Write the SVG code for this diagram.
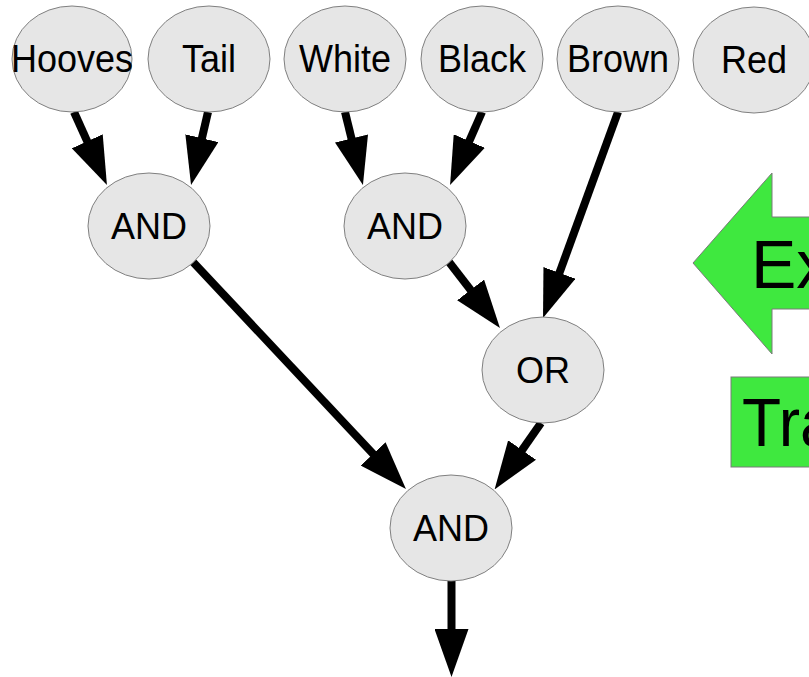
<svg xmlns="http://www.w3.org/2000/svg" width="809" height="677" viewBox="0 0 809 677">
  <style>
    .node ellipse { fill: #e6e6e6; stroke: #808080; stroke-width: 1; }
    .node text { font-family: "Liberation Sans", Arial, sans-serif; font-size: 36px; fill: #000; text-anchor: middle; }
    .edge { stroke: #000; stroke-width: 8; fill: none; marker-end: url(#head); }
    .badge { fill: #3fe83f; stroke: #7a7a7a; stroke-width: 1; }
    .badge-text { font-family: "Liberation Sans", Arial, sans-serif; fill: #000; }
  </style>
  <defs>
    <marker id="head" viewBox="0 0 48 34" refX="8" refY="17" markerWidth="48" markerHeight="34" markerUnits="userSpaceOnUse" orient="auto">
      <path d="M0,0 L48,17 L0,34 z" fill="#000"/>
    </marker>
  </defs>
  <rect width="809" height="677" fill="#fff"/>

  <!-- connectors -->
  <g id="connectors">
    <line class="edge" x1="74" y1="112" x2="90.5" y2="148.6"/>
    <line class="edge" x1="208" y1="112" x2="200.1" y2="146"/>
    <line class="edge" x1="345" y1="112" x2="353.4" y2="146.2"/>
    <line class="edge" x1="482" y1="112" x2="466.1" y2="148.4"/>
    <line class="edge" x1="618" y1="112" x2="556.7" y2="280.4"/>
    <line class="edge" x1="449" y1="262" x2="475.5" y2="296.3"/>
    <line class="edge" x1="193" y1="262" x2="378.6" y2="459.8"/>
    <line class="edge" x1="541" y1="423" x2="517.5" y2="456.6"/>
    <line class="edge" x1="451.5" y1="581" x2="451.5" y2="637"/>
  </g>

  <!-- input nodes (labels slightly stretched vertically) -->
  <g id="hooves" class="node"><ellipse cx="72" cy="59" rx="60" ry="53"/><text x="72" y="0" transform="translate(0,72) scale(1,1.08)">Hooves</text></g>
  <g id="tail" class="node"><ellipse cx="209" cy="59" rx="61" ry="53"/><text x="209" y="0" transform="translate(0,72) scale(1,1.08)">Tail</text></g>
  <g id="white" class="node"><ellipse cx="345" cy="59" rx="61" ry="53"/><text x="345" y="0" transform="translate(0,72) scale(1,1.08)">White</text></g>
  <g id="black" class="node"><ellipse cx="482" cy="59" rx="61" ry="53"/><text x="482" y="0" transform="translate(0,72) scale(1,1.08)">Black</text></g>
  <g id="brown" class="node"><ellipse cx="618" cy="59" rx="61" ry="53"/><text x="618" y="0" transform="translate(0,72) scale(1,1.08)">Brown</text></g>
  <g id="red" class="node"><ellipse cx="754" cy="60" rx="61" ry="53"/><text x="754" y="0" transform="translate(0,73) scale(1,1.08)">Red</text></g>

  <!-- gate nodes -->
  <g id="and-left" class="node"><ellipse cx="149" cy="226" rx="61" ry="53"/><text x="149" y="0" transform="translate(0,239) scale(1,1.05)">AND</text></g>
  <g id="and-right" class="node"><ellipse cx="405" cy="226" rx="61" ry="53"/><text x="405" y="0" transform="translate(0,239) scale(1,1.05)">AND</text></g>
  <g id="or" class="node"><ellipse cx="543" cy="370" rx="61" ry="53"/><text x="543" y="0" transform="translate(0,383) scale(1,1.05)">OR</text></g>
  <g id="and-out" class="node"><ellipse cx="451" cy="528" rx="61" ry="53"/><text x="451" y="0" transform="translate(0,541) scale(1,1.05)">AND</text></g>

  <!-- green labels running off the right edge -->
  <g id="ex-arrow">
    <polygon class="badge" points="693,263 772,173 772,217 815,217 815,309 772,309 772,354"/>
    <text class="badge-text" x="751" y="288" font-size="68">Ex</text>
  </g>
  <g id="tr-box">
    <rect class="badge" x="731" y="377" width="90" height="90"/>
    <text class="badge-text" x="0" y="0" font-size="64" transform="translate(742,446) scale(1,1.08)">Tra</text>
  </g>
</svg>
